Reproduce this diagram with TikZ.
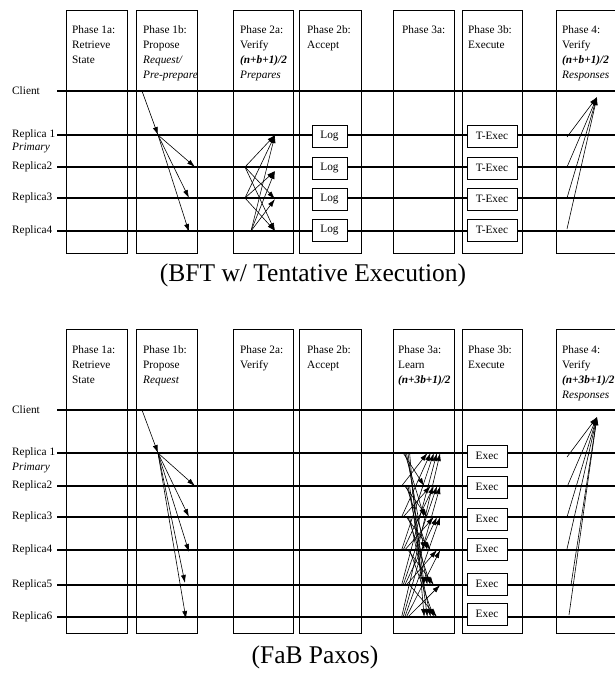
\documentclass[tikz,border=0pt]{standalone}
\usepackage{fontspec}
\setmainfont{Liberation Serif}
\usetikzlibrary{arrows.meta}
\tikzset{
  wire/.style={line width=1.7pt},
  frame/.style={draw,line width=0.8pt},
  msg/.style={-{Latex[length=8pt,width=5pt]},line width=0.6pt},
  phasetext/.style={anchor=north west,align=left,inner sep=0pt,font=\fontsize{11.3}{15}\selectfont},
  who/.style={anchor=west,inner sep=0pt,font=\fontsize{11.3}{13}\selectfont},
  opbox/.style={draw,fill=white,line width=0.8pt,minimum height=22pt,inner sep=0pt,font=\fontsize{11.3}{13}\selectfont},
  caption/.style={font=\fontsize{25.5}{30}\selectfont}
}
\begin{document}
\begin{tikzpicture}[x=1pt,y=-1pt]
\useasboundingbox (0,0) rectangle (615,673);

% ---- BFT with tentative execution ----
\foreach \xa/\xb in {66/127,136/197,233/293,299/361,393/454,462/522,556/620}
  \draw[frame] (\xa,10) rectangle (\xb,253);

\node[phasetext] (top-h1a) at (72,25) {Phase 1a:\\Retrieve\\State};
\node[phasetext] (top-h1b) at (143,25) {Phase 1b:\\Propose\\\textit{Request/}\\\textit{Pre-prepare}};
\node[phasetext] (top-h2a) at (240,25) {Phase 2a:\\Verify\\\textbf{\textit{(n+b+1)/2}}\\\textit{Prepares}};
\node[phasetext] (top-h2b) at (307,25) {Phase 2b:\\Accept};
\node[phasetext] (top-h3a) at (402,25) {Phase 3a:};
\node[phasetext] (top-h3b) at (468,25) {Phase 3b:\\Execute};
\node[phasetext] (top-h4) at (562,25) {Phase 4:\\Verify\\\textbf{\textit{(n+b+1)/2}}\\\textit{Responses}};

\foreach \n/\y/\t in {cl/91/Client,r1/135/Replica 1,r2/167/Replica2,r3/198/Replica3,r4/231/Replica4}{
  \node[who] (top-\n) at (12,\y) {\t};
  \coordinate (top-\n-a) at (57,\y);
  \coordinate (top-\n-b) at (615,\y);
  \draw[wire] (top-\n-a) -- (top-\n-b);
}
\node[who,font=\fontsize{11.3}{13}\selectfont\itshape] (top-prim) at (12,148) {Primary};

% request and pre-prepare
\coordinate (top-req) at (142,91);
\coordinate (top-pp) at (158,135);
\draw[msg] (top-req) -- (top-pp);
\foreach \n/\x/\y in {2/195/167,3/189/198,4/189/232}{
  \coordinate (top-pp\n) at (\x,\y);
  \draw[msg] (top-pp) -- (top-pp\n);
}

% prepares
\coordinate (top-ps2) at (245,167);
\coordinate (top-ps3) at (245,198);
\coordinate (top-ps4) at (251,231);
\foreach \n/\y in {1/135,2/171,3/199,4/231}
  \coordinate (top-pt\n) at (275,\y);
\foreach \s/\t in {2/1,2/3,2/4,3/1,3/2,3/4,4/1,4/2,4/3}
  \draw[msg] (top-ps\s) -- (top-pt\t);

\foreach \n/\y in {1/136,2/168,3/199,4/230}{
  \node[opbox,minimum width=35pt] (top-log\n) at (329.5,\y) {Log};
  \node[opbox,minimum width=50pt] (top-tx\n) at (492,\y) {T-Exec};
}

% responses
\coordinate (top-vt) at (597,97);
\foreach \n/\y in {1/137,2/167,3/198,4/229}{
  \coordinate (top-vs\n) at (567,\y);
  \draw[msg] (top-vs\n) -- (top-vt);
}

\node[caption] (top-cap) at (313,275) {(BFT w/ Tentative Execution)};

% ---- FaB Paxos ----
\foreach \xa/\xb in {66/127,136/197,233/293,299/361,393/454,462/522,556/620}
  \draw[frame] (\xa,329) rectangle (\xb,633);

\node[phasetext] (bot-h1a) at (72,345) {Phase 1a:\\Retrieve\\State};
\node[phasetext] (bot-h1b) at (143,345) {Phase 1b:\\Propose\\\textit{Request}};
\node[phasetext] (bot-h2a) at (240,345) {Phase 2a:\\Verify};
\node[phasetext] (bot-h2b) at (307,345) {Phase 2b:\\Accept};
\node[phasetext] (bot-h3a) at (398,345) {Phase 3a:\\Learn\\\textbf{\textit{(n+3b+1)/2}}};
\node[phasetext] (bot-h3b) at (468,345) {Phase 3b:\\Execute};
\node[phasetext] (bot-h4) at (562,345) {Phase 4:\\Verify\\\textbf{\textit{(n+3b+1)/2}}\\\textit{Responses}};

\foreach \n/\y/\t in {cl/410/Client,r1/453/Replica 1,r2/486/Replica2,r3/517/Replica3,r4/550/Replica4,r5/585/Replica5,r6/617/Replica6}{
  \node[who] (bot-\n) at (12,\y) {\t};
  \coordinate (bot-\n-a) at (57,\y);
  \coordinate (bot-\n-b) at (615,\y);
  \draw[wire] (bot-\n-a) -- (bot-\n-b);
}
\node[who,font=\fontsize{11.3}{13}\selectfont\itshape] (bot-prim) at (12,468) {Primary};

% request and propose
\coordinate (bot-req) at (142,410);
\coordinate (bot-pp) at (158,453);
\draw[msg] (bot-req) -- (bot-pp);
\foreach \n/\x/\y in {2/195/486,3/189/517,4/189/552,5/185/583,6/186/619}{
  \coordinate (bot-pp\n) at (\x,\y);
  \draw[msg] (bot-pp) -- (bot-pp\n);
}

% learn, all to all
\foreach \s/\ys in {1/453,2/486,3/517,4/550,5/585,6/617}
  \foreach \t/\yt in {1/453,2/486,3/517,4/550,5/585,6/617}{
    \ifnum\s=\t\relax\else
      \coordinate (bot-ls\s\t) at ({400+1.6*\t},\ys);
      \coordinate (bot-lt\s\t) at ({421+3.2*\s},\yt);
      \draw[msg] (bot-ls\s\t) -- (bot-lt\s\t);
    \fi
  }

\foreach \n/\y in {1/456,2/487,3/519,4/549,5/584,6/614}
  \node[opbox,minimum width=40pt] (bot-ex\n) at (487,\y) {Exec};

% responses
\coordinate (bot-vt) at (597,417);
\foreach \n/\x/\y in {1/567/457,2/567/487,3/567/517,4/567/549,5/571/585,6/569/615}{
  \coordinate (bot-vs\n) at (\x,\y);
  \draw[msg] (bot-vs\n) -- (bot-vt);
}

\node[caption] (bot-cap) at (315,657) {(FaB Paxos)};
\end{tikzpicture}
\end{document}
